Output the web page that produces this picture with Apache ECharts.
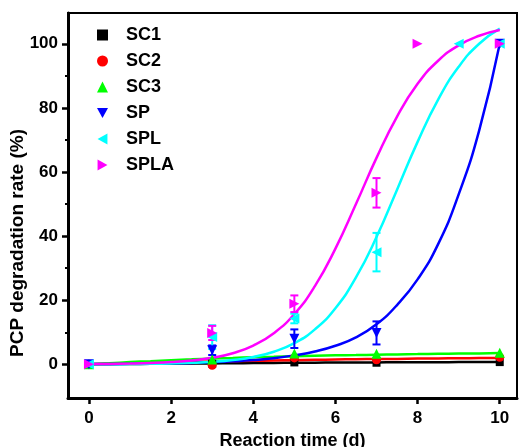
<!DOCTYPE html>
<html lang="en">
<head>
    <meta charset="UTF-8">
    <title>PCP degradation</title>
    <style>
        html, body { margin: 0; padding: 0; background: #fff; }
    </style>
</head>
<body>
<div id="chart" style="width: 520px; height: 447px"></div>
<script src="https://cdn.jsdelivr.net/npm/echarts@6/dist/echarts.min.js"></script>
<script>
    // measured points
    var xSC = [0, 3, 5, 7, 10];
    var sc1 = [0, 0.2, 0.6, 0.5, 0.7];
    var sc2 = [0, -0.3, 2.0, 1.4, 2.2];
    var sc3 = [0, 1.5, 3.4, 3.3, 3.6];
    var sp = [0, 4.4, 8.0, 9.8, 100];
    var spErr = [0, 1.5, 2.9, 3.6, 0];
    var xSPL = [0, 3, 5, 7, 9, 10];
    var spl = [0, 8.5, 14.3, 35.0, 100, 100];
    var splErr = [0, 3.7, 1.5, 6.0, 0, 0];
    var xSPLA = [0, 3, 5, 7, 8, 10];
    var spla = [0, 9.8, 18.9, 53.5, 100, 100];
    var splaErr = [0, 2.2, 2.6, 4.6, 0, 0];

    // fitted curves
    var xFit = [0, 0.5, 1, 1.5, 2, 2.5, 3, 3.5, 4, 4.5, 5, 5.5, 6, 6.5, 7, 7.5, 8, 8.5, 9, 9.5, 10];
    var fitSC1 = [0, 0.05, 0.1, 0.15, 0.2, 0.25, 0.3, 0.35, 0.4, 0.44, 0.48, 0.52, 0.55, 0.58, 0.6, 0.63, 0.65, 0.67, 0.7, 0.72, 0.75];
    var fitSC2 = [0, 0.15, 0.3, 0.45, 0.6, 0.75, 0.9, 1.0, 1.1, 1.2, 1.3, 1.4, 1.5, 1.6, 1.65, 1.7, 1.8, 1.85, 1.9, 1.95, 2.0];
    var fitSC3 = [0, 0.35, 0.7, 1.0, 1.3, 1.55, 1.8, 2.0, 2.2, 2.35, 2.5, 2.65, 2.8, 2.9, 3.0, 3.1, 3.2, 3.3, 3.35, 3.4, 3.5];
    var fitSP = [0.07, 0.11, 0.15, 0.22, 0.32, 0.45, 0.65, 0.93, 1.33, 1.91, 2.8, 4.0, 5.8, 8.4, 12.5, 18.5, 26.5, 37.5, 53, 73, 100];
    var fitSPL = [0.03, 0.05, 0.09, 0.16, 0.27, 0.46, 0.79, 1.36, 2.31, 3.93, 6.6, 10.9, 17.5, 27.1, 39.7, 54.5, 69.4, 82.6, 92.8, 100.0, 104.7];
    var fitSPLA = [0.08, 0.14, 0.24, 0.41, 0.7, 1.2, 2.05, 3.48, 5.86, 9.72, 15.7, 24.4, 36.1, 50.0, 64.4, 77.3, 87.5, 94.7, 99.5, 102.5, 104.3];

    var xTicks = [0, 2, 4, 6, 8, 10];
    var yTicks = [0, 20, 40, 60, 80, 100];
    var yMinor = [10, 30, 50, 70, 90];

    var names = ['SC1', 'SC2', 'SC3', 'SP', 'SPL', 'SPLA'];
    var colors = ['#000000', '#ff0000', '#00ff00', '#0000ff', '#00ffff', '#ff00ff'];
    var symbols = ['rect', 'circle', 'triangle',
        'path://M0,0L10,0L5,9Z', 'path://M9,0L9,10L0,5Z', 'path://M0,0L0,10L9,5Z'];
    var sizes = [8, 9, 10, 10, 10, 10];

    function pairs(xs, ys) {
        var out = [];
        for (var i = 0; i < xs.length; i++) out.push([xs[i], ys[i]]);
        return out;
    }
    function triples(xs, ys, es) {
        var out = [];
        for (var i = 0; i < xs.length; i++) {
            if (es[i] > 0) out.push([xs[i], ys[i], es[i]]);
        }
        return out;
    }

    var pointSets = [pairs(xSC, sc1), pairs(xSC, sc2), pairs(xSC, sc3), pairs(xSC, sp), pairs(xSPL, spl), pairs(xSPLA, spla)];
    var fitSets = [fitSC1, fitSC2, fitSC3, fitSP, fitSPL, fitSPLA];
    var errSets = [null, null, null, triples(xSC, sp, spErr), triples(xSPL, spl, splErr), triples(xSPLA, spla, splaErr)];

    function errorBar(color) {
        return function (params, api) {
            var x = api.value(0), y = api.value(1), e = api.value(2);
            var hi = api.coord([x, y + e]);
            var lo = api.coord([x, y - e]);
            var w = 4;
            var st = { stroke: color, lineWidth: 2 };
            return {
                type: 'group',
                children: [
                    { type: 'line', shape: { x1: hi[0], y1: hi[1], x2: lo[0], y2: lo[1] }, style: st },
                    { type: 'line', shape: { x1: hi[0] - w, y1: hi[1], x2: hi[0] + w, y2: hi[1] }, style: st },
                    { type: 'line', shape: { x1: lo[0] - w, y1: lo[1], x2: lo[0] + w, y2: lo[1] }, style: st }
                ]
            };
        };
    }

    var series = [];
    for (var i = 0; i < names.length; i++) {
        series.push({
            name: names[i] + ' fit',
            type: 'line',
            data: pairs(xFit, fitSets[i]),
            smooth: true,
            showSymbol: false,
            lineStyle: { color: colors[i], width: 2.5 },
            z: 2,
            silent: true
        });
    }
    for (var j = 0; j < names.length; j++) {
        if (errSets[j]) {
            series.push({
                name: names[j] + ' err',
                type: 'custom',
                data: errSets[j],
                renderItem: errorBar(colors[j]),
                z: 3,
                silent: true
            });
        }
    }
    for (var k = 0; k < names.length; k++) {
        series.push({
            name: names[k],
            type: 'scatter',
            data: pointSets[k],
            symbol: symbols[k],
            symbolSize: sizes[k],
            itemStyle: { color: colors[k], opacity: 1 },
            z: 4
        });
    }

    var legendData = [];
    for (var m = 0; m < names.length; m++) {
        legendData.push({ name: names[m], icon: symbols[m] });
    }

    var labelFont = { fontFamily: 'Liberation Sans, Arial', fontWeight: 'bold', fontSize: 17, color: '#000' };

    var chart = echarts.init(document.getElementById('chart'));
    chart.setOption({
        animation: false,
        backgroundColor: '#fff',
        grid: {
            left: 68, right: 3, top: 13, bottom: 49,
            outerBoundsMode: 'none', containLabel: false,
            show: true, borderColor: '#000', borderWidth: 2, backgroundColor: 'transparent'
        },
        legend: {
            data: legendData,
            orient: 'vertical',
            left: 92,
            top: 21,
            itemWidth: 11,
            itemHeight: 11,
            itemGap: 8,
            textStyle: { fontFamily: 'Liberation Sans, Arial', fontWeight: 'bold', fontSize: 18, color: '#000', lineHeight: 18, padding: [0, 0, 0, 13] }
        },
        xAxis: {
            type: 'value',
            min: -0.51,
            max: 10.42,
            name: 'Reaction time (d)',
            nameLocation: 'middle',
            nameGap: 31,
            nameTextStyle: { fontFamily: 'Liberation Sans, Arial', fontWeight: 'bold', fontSize: 18, color: '#000' },
            axisLine: { onZero: false, lineStyle: { color: '#000', width: 3 } },
            axisTick: { show: true, customValues: xTicks, length: 6, lineStyle: { color: '#000', width: 2.5 } },
            axisLabel: Object.assign({ customValues: xTicks, margin: 12 }, labelFont),
            splitLine: { show: false }
        },
        yAxis: [{
            type: 'value',
            min: -10.5,
            max: 109.6,
            axisLine: { show: true, onZero: false, lineStyle: { color: '#000', width: 3 } },
            axisTick: { show: true, customValues: yTicks, length: 6, lineStyle: { color: '#000', width: 2.5 } },
            axisLabel: Object.assign({ customValues: yTicks, margin: 10 }, labelFont),
            splitLine: { show: false }
        }, {
            type: 'value',
            min: -10.5,
            max: 109.6,
            position: 'left',
            offset: 0,
            axisLine: { show: false, onZero: false },
            axisTick: { show: true, customValues: yMinor, length: 3, lineStyle: { color: '#000', width: 2 } },
            axisLabel: { show: false },
            splitLine: { show: false }
        }],
        graphic: [{
            type: 'text',
            x: 18,
            y: 243,
            rotation: Math.PI / 2,
            style: {
                text: 'PCP degradation rate (%)',
                font: 'bold 19px "Liberation Sans", Arial',
                fill: '#000',
                textAlign: 'center',
                textVerticalAlign: 'middle'
            }
        }],
        series: series
    });
</script>
</body>
</html>
